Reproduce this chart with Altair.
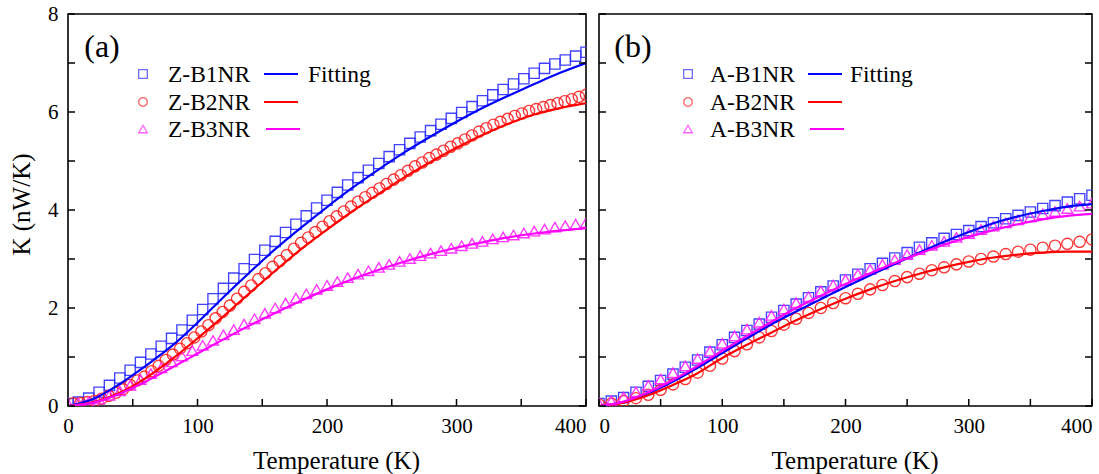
import altair as alt
import pandas as pd

# ---------------- data ----------------
T8 = [0, 8, 16, 24, 32, 40, 48, 56, 64, 72, 80, 88, 96, 104, 112, 120, 128, 136, 144, 152,
      160, 168, 176, 184, 192, 200, 208, 216, 224, 232, 240, 248, 256, 264, 272, 280, 288,
      296, 304, 312, 320, 328, 336, 344, 352, 360, 368, 376, 384, 392, 400]
T55 = [4, 9.5, 15, 20.5, 26, 31.5, 37, 42.5, 48, 53.5, 59, 64.5, 70, 75.5, 81, 86.5, 92, 97.5,
       103, 108.5, 114, 119.5, 125, 130.5, 136, 141.5, 147, 152.5, 158, 163.5, 169, 174.5, 180,
       185.5, 191, 196.5, 202, 207.5, 213, 218.5, 224, 229.5, 235, 240.5, 246, 251.5, 257,
       262.5, 268, 273.5, 279, 284.5, 290, 295.5, 301, 306.5, 312, 317.5, 323, 328.5, 334,
       339.5, 345, 350.5, 356, 361.5, 367, 372.5, 378, 383.5, 389, 394.5, 400]
T10 = [0, 10, 20, 30, 40, 50, 60, 70, 80, 90, 100, 110, 120, 130, 140, 150, 160, 170, 180, 190,
       200, 210, 220, 230, 240, 250, 260, 270, 280, 290, 300, 310, 320, 330, 340, 350, 360, 370,
       380, 390, 400]
T20 = [0, 20, 40, 60, 80, 100, 120, 140, 160, 180, 200, 220, 240, 260, 280, 300, 320, 340, 360,
       380, 400]

z_b1 = [0.05, 0.08, 0.16, 0.28, 0.42, 0.57, 0.73, 0.89, 1.06, 1.22, 1.38, 1.55, 1.75, 1.97, 2.19,
        2.40, 2.61, 2.80, 2.99, 3.18, 3.36, 3.54, 3.71, 3.88, 4.04, 4.20, 4.36, 4.51, 4.66, 4.81,
        4.95, 5.09, 5.23, 5.36, 5.49, 5.62, 5.75, 5.87, 5.99, 6.11, 6.23, 6.35, 6.46, 6.57, 6.68,
        6.79, 6.89, 6.98, 7.06, 7.14, 7.22]
z_b2 = [0.05, 0.06, 0.08, 0.10, 0.15, 0.21, 0.27, 0.34, 0.43, 0.52, 0.60, 0.71, 0.82, 0.94, 1.05,
        1.17, 1.28, 1.40, 1.52, 1.65, 1.79, 1.92, 2.05, 2.19, 2.33, 2.46, 2.59, 2.71, 2.84, 2.96,
        3.08, 3.21, 3.33, 3.44, 3.55, 3.66, 3.77, 3.87, 3.97, 4.07, 4.17, 4.26, 4.35, 4.44, 4.53,
        4.62, 4.71, 4.80, 4.89, 4.97, 5.06, 5.13, 5.21, 5.29, 5.36, 5.44, 5.52, 5.60, 5.67, 5.74,
        5.80, 5.86, 5.92, 5.97, 6.02, 6.06, 6.10, 6.14, 6.18, 6.22, 6.26, 6.31, 6.35]
z_b3 = [0.05, 0.06, 0.09, 0.14, 0.22, 0.31, 0.42, 0.54, 0.66, 0.78, 0.90, 1.02, 1.13, 1.24, 1.34,
        1.45, 1.56, 1.67, 1.78, 1.89, 2.00, 2.10, 2.20, 2.29, 2.38, 2.46, 2.54, 2.62, 2.69, 2.76,
        2.83, 2.89, 2.95, 3.01, 3.07, 3.12, 3.17, 3.22, 3.27, 3.32, 3.36, 3.41, 3.45, 3.49, 3.53,
        3.57, 3.61, 3.65, 3.68, 3.71, 3.74]
z_fit1 = [0.0, 0.15, 0.45, 0.82, 1.22, 1.70, 2.22, 2.72, 3.20, 3.64, 4.06, 4.46, 4.83, 5.18, 5.50,
          5.80, 6.08, 6.33, 6.57, 6.80, 7.00]
z_fit2 = [0.0, 0.08, 0.27, 0.57, 0.95, 1.38, 1.83, 2.30, 2.76, 3.20, 3.60, 3.98, 4.33, 4.67, 4.98,
          5.27, 5.53, 5.76, 5.95, 6.08, 6.18]
z_fit3 = [0.0, 0.07, 0.25, 0.50, 0.78, 1.07, 1.36, 1.64, 1.90, 2.15, 2.38, 2.59, 2.78, 2.95, 3.10,
          3.23, 3.34, 3.44, 3.52, 3.58, 3.63]

a_b1 = [0.05, 0.10, 0.17, 0.28, 0.40, 0.52, 0.65, 0.79, 0.94, 1.10, 1.25, 1.40, 1.54, 1.67, 1.81,
        1.95, 2.08, 2.21, 2.33, 2.45, 2.57, 2.69, 2.80, 2.91, 3.02, 3.13, 3.24, 3.33, 3.42, 3.50,
        3.58, 3.66, 3.74, 3.82, 3.89, 3.96, 4.03, 4.09, 4.16, 4.23, 4.30]
a_b2 = [0.03, 0.05, 0.10, 0.16, 0.23, 0.33, 0.44, 0.55, 0.68, 0.82, 0.97, 1.12, 1.26, 1.40, 1.53,
        1.66, 1.78, 1.90, 2.00, 2.10, 2.20, 2.29, 2.38, 2.47, 2.55, 2.63, 2.70, 2.77, 2.83, 2.89,
        2.95, 3.00, 3.05, 3.10, 3.15, 3.19, 3.23, 3.27, 3.31, 3.35, 3.40]
a_b3 = [0.05, 0.10, 0.18, 0.29, 0.42, 0.55, 0.68, 0.82, 0.97, 1.12, 1.28, 1.43, 1.57, 1.71, 1.85,
        1.98, 2.11, 2.23, 2.35, 2.47, 2.58, 2.69, 2.79, 2.89, 2.99, 3.09, 3.19, 3.28, 3.36, 3.44,
        3.52, 3.60, 3.67, 3.74, 3.80, 3.86, 3.92, 3.97, 4.03, 4.08, 4.14]
a_fit1 = [0.0, 0.08, 0.26, 0.50, 0.78, 1.08, 1.38, 1.67, 1.93, 2.18, 2.43, 2.67, 2.90, 3.13, 3.35,
          3.55, 3.73, 3.87, 3.98, 4.07, 4.12]
a_fit2 = [0.0, 0.07, 0.22, 0.43, 0.67, 0.98, 1.25, 1.50, 1.75, 1.98, 2.19, 2.38, 2.55, 2.70, 2.83,
          2.94, 3.03, 3.09, 3.13, 3.15, 3.15]
a_fit3 = [0.0, 0.09, 0.28, 0.53, 0.82, 1.13, 1.43, 1.72, 2.00, 2.25, 2.49, 2.71, 2.92, 3.11, 3.29,
          3.45, 3.59, 3.71, 3.81, 3.88, 3.92]

names_a = ["Z-B1NR", "Z-B2NR", "Z-B3NR"]
names_b = ["A-B1NR", "A-B2NR", "A-B3NR"]
x_ticks = [0, 50, 100, 150, 200, 250, 300, 350, 400]
y_ticks = [0, 1, 2, 3, 4, 5, 6, 7, 8]
x_labels = [0, 100, 200, 300, 400]
y_labels = [0, 2, 4, 6, 8]

# ---------------- styling ----------------
FONT = "Liberation Serif"
WA, WB, H = 518, 493, 392
COLORS = ["#2f2fff", "#ff2020", "#ff22ff"]
LINE_COLORS = ["#0000ff", "#ff0000", "#ff00ff"]
SHAPES = ["square", "circle", "triangle-up"]
SIZES = [105, 125, 120]
TICK = 7


def panel(T_pts, series, fits, names, W, tag, first, leg):
    xs = alt.Scale(domain=[0, 400], nice=False, zero=True)
    ys = alt.Scale(domain=[0, 8], nice=False)
    if first:
        align_expr = "datum.value == 400 ? 'right' : 'center'"
        yaxis = alt.Axis(values=y_labels, ticks=False, domain=False, grid=False,
                         labelFontSize=21, labelPadding=10, labelBaseline="middle",
                         title="K (nW/K)", titleFontSize=25, titleAngle=-90,
                         titleX=-39, titleY=H / 2 - 6, titleAlign="center",
                         titleBaseline="alphabetic")
    else:
        align_expr = "datum.value == 400 ? 'right' : (datum.value == 0 ? 'left' : 'center')"
        yaxis = alt.Axis(labels=False, ticks=False, domain=False, grid=False, title=None)
    xaxis = alt.Axis(values=x_labels, ticks=False, domain=False, grid=False,
                     labelFontSize=21, labelPadding=9, labelAlign={"expr": align_expr},
                     title="Temperature (K)", titleFontSize=25, titleX=W / 2 + 9, titleY=62,
                     titleAlign="center", titleBaseline="alphabetic")

    layers = []
    for i in range(3):
        df = pd.DataFrame({"T": T_pts[i], "K": series[i]})
        enc = dict(x=alt.X("T:Q", scale=xs, axis=xaxis), y=alt.Y("K:Q", scale=ys, axis=yaxis))
        layers.append(
            alt.Chart(df).mark_point(shape=SHAPES[i], filled=False, color=COLORS[i],
                                     size=SIZES[i], strokeWidth=1.35, opacity=0.9, clip=True)
            .encode(**enc)
        )
    for i in range(3):
        df = pd.DataFrame({"T": T20, "K": fits[i]})
        layers.append(
            alt.Chart(df).mark_line(color=LINE_COLORS[i], strokeWidth=2.2,
                                    interpolate="monotone", clip=True)
            .encode(x=alt.X("T:Q", scale=xs), y=alt.Y("K:Q", scale=ys))
        )
    # inward ticks
    xt = pd.DataFrame({"T": x_ticks})
    yt = pd.DataFrame({"K": y_ticks})
    layers.append(alt.Chart(xt).mark_rule(color="black", strokeWidth=1.5).encode(
        x=alt.X("T:Q", scale=xs), y=alt.value(H), y2=alt.value(H - TICK)))
    layers.append(alt.Chart(yt).mark_rule(color="black", strokeWidth=1.5).encode(
        y=alt.Y("K:Q", scale=ys), x=alt.value(0), x2=alt.value(TICK)))
    layers.append(alt.Chart(yt).mark_rule(color="black", strokeWidth=1.5).encode(
        y=alt.Y("K:Q", scale=ys), x=alt.value(W), x2=alt.value(W - TICK)))

    # legend
    one = pd.DataFrame({"d": [0]})
    sx, lx, l1, l2, fx = leg
    rows = [60, 88, 115]
    for i in range(3):
        layers.append(alt.Chart(one).mark_point(shape=SHAPES[i], filled=False, color=COLORS[i],
                                                size=75, strokeWidth=1.3).encode(
            x=alt.value(sx), y=alt.value(rows[i])))
        layers.append(alt.Chart(one).mark_text(text=names[i], font=FONT, fontSize=23.5,
                                               align="left", baseline="middle",
                                               color="black").encode(
            x=alt.value(lx), y=alt.value(rows[i] + 1)))
        layers.append(alt.Chart(one).mark_rule(color=LINE_COLORS[i], strokeWidth=2).encode(
            x=alt.value(l1 + (2 if i == 2 else 0)), x2=alt.value(l2 + (2 if i == 2 else 0)),
            y=alt.value(rows[i])))
    layers.append(alt.Chart(one).mark_text(text="Fitting", font=FONT, fontSize=23.5,
                                           align="left", baseline="middle",
                                           color="black").encode(
        x=alt.value(fx), y=alt.value(rows[0] + 1)))
    layers.append(alt.Chart(one).mark_text(text=tag, font=FONT, fontSize=32, align="center",
                                           baseline="middle", color="black").encode(
        x=alt.value(34), y=alt.value(33)))

    return alt.layer(*layers).properties(width=W, height=H)


pa = panel([T8, T55, T8], [z_b1, z_b2, z_b3], [z_fit1, z_fit2, z_fit3], names_a, WA, "(a)", True,
           (75, 100, 196, 230, 240))
pb = panel([T10, T10, T10], [a_b1, a_b2, a_b3], [a_fit1, a_fit2, a_fit3], names_b, WB, "(b)",
           False, (89, 111, 209, 243, 251))

chart = (
    alt.hconcat(pa, pb, spacing=9)
    .properties(padding={"left": 8, "top": 2, "right": 0, "bottom": 0}, background="white")
    .configure_view(stroke="black", strokeWidth=1.6)
    .configure_axis(labelFont=FONT, titleFont=FONT, labelColor="black", titleColor="black",
                    titleFontWeight="normal")
)

chart.save("out.html", embed_options={"renderer": "svg", "actions": False})
